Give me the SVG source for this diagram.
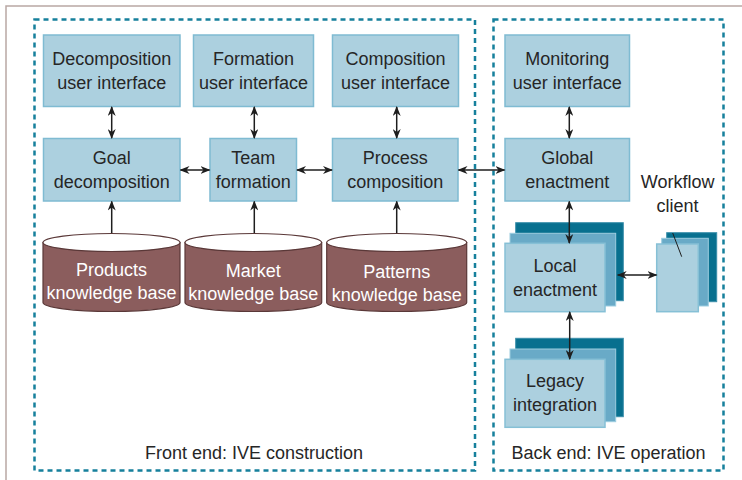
<svg xmlns="http://www.w3.org/2000/svg" width="742" height="480" viewBox="0 0 742 480">
  <defs>
    <style>
      .frame { fill: none; stroke: #b9a8a4; stroke-width: 1.5; }
      .zone { fill: none; stroke: #16809c; stroke-width: 2.5; stroke-dasharray: 5 4; }
      .box { fill: #acd0df; stroke: #7fbbd2; stroke-width: 1.5; }
      .layer-back { fill: #08708f; stroke: #3a8eaa; stroke-width: 1; }
      .layer-mid { fill: #69aac7; stroke: #9dcde0; stroke-width: 1; }
      .layer-front { fill: #acd0df; stroke: #86c0d6; stroke-width: 1.5; }
      .cyl-body { fill: #8b5d5d; stroke: #5a3838; stroke-width: 1.2; }
      .cyl-top { fill: #ffffff; stroke: #5a3838; stroke-width: 1.2; }
      .label { font-family: "Liberation Sans", Arial, sans-serif; font-size: 18px; fill: #262626; text-anchor: middle; }
      .label-kb { font-family: "Liberation Sans", Arial, sans-serif; font-size: 18px; fill: #ffffff; text-anchor: middle; }
      .link { fill: none; stroke: #1e1e1e; stroke-width: 1.5; }
      .leader { fill: none; stroke: #1e1e1e; stroke-width: 1; }
    </style>
    <marker id="head" viewBox="0 0 10 8" refX="9" refY="4" markerWidth="10" markerHeight="8" markerUnits="userSpaceOnUse" orient="auto-start-reverse">
      <path d="M0,0 L10,4 L0,8 L3,4 z" fill="#1e1e1e"/>
    </marker>
  </defs>

  <rect width="742" height="480" fill="#ffffff"/>
  <!-- page frame -->
  <rect class="frame" x="6" y="6" width="760" height="500"/>

  <!-- regions -->
  <g id="front-end">
    <rect class="zone" x="34.5" y="19.5" width="440.5" height="451"/>
    <text class="label" x="254" y="459">Front end: IVE construction</text>
  </g>
  <g id="back-end">
    <rect class="zone" x="493.5" y="19.5" width="230" height="451"/>
    <text class="label" x="608.5" y="458.5">Back end: IVE operation</text>
  </g>

  <!-- user interfaces -->
  <g id="decomposition-ui">
    <rect class="box" x="43.5" y="35" width="136.5" height="71.5"/>
    <text class="label" x="111.7" y="65">Decomposition</text>
    <text class="label" x="111.7" y="88.5">user interface</text>
  </g>
  <g id="formation-ui">
    <rect class="box" x="193.5" y="35" width="120" height="71.5"/>
    <text class="label" x="253.5" y="65">Formation</text>
    <text class="label" x="253.5" y="88.5">user interface</text>
  </g>
  <g id="composition-ui">
    <rect class="box" x="332.5" y="35" width="126" height="71.5"/>
    <text class="label" x="395.5" y="65">Composition</text>
    <text class="label" x="395.5" y="88.5">user interface</text>
  </g>
  <g id="monitoring-ui">
    <rect class="box" x="505" y="35" width="124.5" height="71.5"/>
    <text class="label" x="567.2" y="65">Monitoring</text>
    <text class="label" x="567.2" y="88.5">user interface</text>
  </g>

  <!-- processing nodes -->
  <g id="goal-decomposition">
    <rect class="box" x="43.5" y="138.5" width="136.5" height="62.5"/>
    <text class="label" x="111.7" y="163.5">Goal</text>
    <text class="label" x="111.7" y="187.5">decomposition</text>
  </g>
  <g id="team-formation">
    <rect class="box" x="210" y="138.5" width="86.5" height="62.5"/>
    <text class="label" x="253.3" y="163.5">Team</text>
    <text class="label" x="253.3" y="187.5">formation</text>
  </g>
  <g id="process-composition">
    <rect class="box" x="332.5" y="138.5" width="125.5" height="62.5"/>
    <text class="label" x="395.3" y="163.5">Process</text>
    <text class="label" x="395.3" y="187.5">composition</text>
  </g>
  <g id="global-enactment">
    <rect class="box" x="505" y="138.5" width="124.5" height="62.5"/>
    <text class="label" x="567.2" y="163.5">Global</text>
    <text class="label" x="567.2" y="187.5">enactment</text>
  </g>

  <!-- knowledge bases -->
  <g id="products-kb">
    <path class="cyl-body" d="M43,242.5 V302.5 A68.5,9 0 0 0 180,302.5 V242.5 Z"/>
    <ellipse class="cyl-top" cx="111.5" cy="242.5" rx="68.5" ry="9"/>
    <text class="label-kb" x="111.5" y="276">Products</text>
    <text class="label-kb" x="111.5" y="299">knowledge base</text>
  </g>
  <g id="market-kb">
    <path class="cyl-body" d="M185,242.5 V302.5 A68.3,9 0 0 0 321.7,302.5 V242.5 Z"/>
    <ellipse class="cyl-top" cx="253.3" cy="242.5" rx="68.3" ry="9"/>
    <text class="label-kb" x="253.3" y="276.5">Market</text>
    <text class="label-kb" x="253.3" y="299.5">knowledge base</text>
  </g>
  <g id="patterns-kb">
    <path class="cyl-body" d="M326.7,242.5 V302.5 A70,9 0 0 0 466.7,302.5 V242.5 Z"/>
    <ellipse class="cyl-top" cx="396.7" cy="242.5" rx="70" ry="9"/>
    <text class="label-kb" x="396.7" y="277.5">Patterns</text>
    <text class="label-kb" x="396.7" y="300.5">knowledge base</text>
  </g>

  <!-- stacked nodes -->
  <g id="local-enactment">
    <rect class="layer-back" x="515.7" y="222.7" width="107.6" height="78"/>
    <rect class="layer-mid" x="510" y="233.3" width="105.7" height="72.7"/>
    <rect class="layer-front" x="505" y="243.3" width="100" height="68.4"/>
    <text class="label" x="555" y="272">Local</text>
    <text class="label" x="555" y="296">enactment</text>
  </g>
  <g id="legacy-integration">
    <rect class="layer-back" x="515.7" y="338.3" width="107.6" height="78.4"/>
    <rect class="layer-mid" x="510" y="349" width="105.7" height="72.7"/>
    <rect class="layer-front" x="505" y="359.3" width="100" height="68"/>
    <text class="label" x="555" y="387">Legacy</text>
    <text class="label" x="555" y="411">integration</text>
  </g>
  <g id="workflow-client">
    <rect class="layer-back" x="666.7" y="232.7" width="50" height="69"/>
    <rect class="layer-mid" x="661.7" y="238.3" width="46.6" height="67.7"/>
    <rect class="layer-front" x="656.7" y="244" width="41.6" height="67.7"/>
    <text class="label" x="677.7" y="188">Workflow</text>
    <text class="label" x="677.5" y="211.7">client</text>
    <line class="leader" x1="672.7" y1="233" x2="681.7" y2="256.7"/>
  </g>

  <!-- connectors -->
  <g id="connectors">
    <line class="link" x1="111.7" y1="107" x2="111.7" y2="138" marker-start="url(#head)" marker-end="url(#head)"/>
    <line class="link" x1="254.3" y1="107" x2="254.3" y2="138" marker-start="url(#head)" marker-end="url(#head)"/>
    <line class="link" x1="396.7" y1="107" x2="396.7" y2="138" marker-start="url(#head)" marker-end="url(#head)"/>
    <line class="link" x1="569.3" y1="107" x2="569.3" y2="138" marker-start="url(#head)" marker-end="url(#head)"/>

    <line class="link" x1="180.5" y1="170" x2="209.5" y2="170" marker-start="url(#head)" marker-end="url(#head)"/>
    <line class="link" x1="297" y1="170" x2="332" y2="170" marker-start="url(#head)" marker-end="url(#head)"/>
    <line class="link" x1="458.5" y1="170" x2="504.5" y2="170" marker-start="url(#head)" marker-end="url(#head)"/>

    <line class="link" x1="111.7" y1="233" x2="111.7" y2="201.5" marker-end="url(#head)"/>
    <line class="link" x1="254.3" y1="233" x2="254.3" y2="201.5" marker-end="url(#head)"/>
    <line class="link" x1="396.7" y1="233" x2="396.7" y2="201.5" marker-end="url(#head)"/>

    <line class="link" x1="569.3" y1="201.5" x2="569.3" y2="243" marker-start="url(#head)" marker-end="url(#head)"/>
    <line class="link" x1="569.7" y1="312" x2="569.7" y2="359" marker-start="url(#head)" marker-end="url(#head)"/>
    <line class="link" x1="617.7" y1="275" x2="656.5" y2="275" marker-start="url(#head)" marker-end="url(#head)"/>
  </g>
</svg>
